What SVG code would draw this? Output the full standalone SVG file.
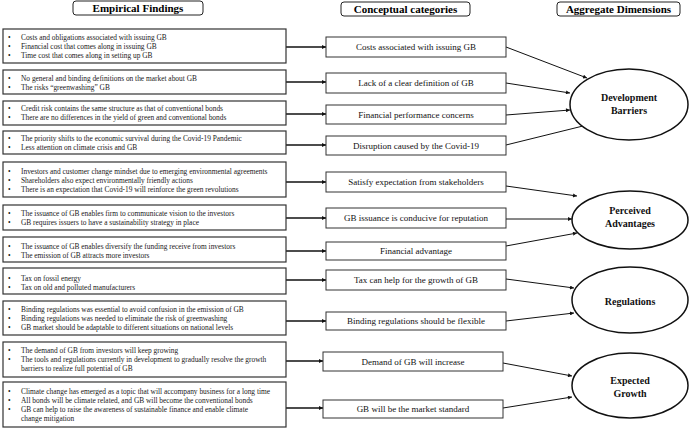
<svg xmlns="http://www.w3.org/2000/svg" width="690" height="428" viewBox="0 0 690 428">
<defs>
<style>
.hdr{fill:#fff;stroke:#222;stroke-width:1}
.ht{font-family:"Liberation Serif","Times New Roman",serif;font-weight:bold;font-size:11px;fill:#000;text-anchor:middle}
.eb{fill:#fff;stroke:#333;stroke-width:1.2}
.et{font-family:"Liberation Serif","Times New Roman",serif;font-size:7.4px;fill:#1a1a1a}
.cb{fill:#fff;stroke:#333;stroke-width:1}
.ct{font-family:"Liberation Serif","Times New Roman",serif;font-size:9px;fill:#111;text-anchor:middle}
.el{fill:#fff;stroke:#111;stroke-width:1.5}
.elt{font-family:"Liberation Serif","Times New Roman",serif;font-weight:bold;font-size:10px;fill:#111;text-anchor:middle}
.cn line{stroke:#111;stroke-width:1}
.cn .thick{stroke-width:1.3}
</style>
<marker id="ah" viewBox="0 0 10 10" refX="10" refY="5" markerWidth="6" markerHeight="4" markerUnits="userSpaceOnUse" orient="auto"><path d="M0,0 L10,5 L0,10 z" fill="#111"/></marker>
</defs>
<rect width="690" height="428" fill="#fff"/>

<g id="headers">
<rect class="hdr" x="73" y="1" width="130" height="14" rx="3"/>
<text class="ht" x="138" y="12">Empirical Findings</text>
<rect class="hdr" x="341" y="2" width="129" height="14" rx="3"/>
<text class="ht" x="405.5" y="13">Conceptual categories</text>
<rect class="hdr" x="557" y="2" width="123" height="14" rx="3"/>
<text class="ht" x="618.5" y="13">Aggregate Dimensions</text>
</g>

<g id="connectors" class="cn">
<line class="thick" x1="286" y1="47" x2="326" y2="47" marker-end="url(#ah)"/>
<line class="thick" x1="286" y1="82" x2="326" y2="82" marker-end="url(#ah)"/>
<line class="thick" x1="286" y1="114" x2="326" y2="114" marker-end="url(#ah)"/>
<line class="thick" x1="286" y1="145" x2="326" y2="145" marker-end="url(#ah)"/>
<line class="thick" x1="286" y1="182" x2="326" y2="182" marker-end="url(#ah)"/>
<line class="thick" x1="286" y1="218" x2="326" y2="218" marker-end="url(#ah)"/>
<line class="thick" x1="286" y1="251" x2="326" y2="251" marker-end="url(#ah)"/>
<line class="thick" x1="286" y1="280" x2="326" y2="280" marker-end="url(#ah)"/>
<line class="thick" x1="286" y1="321" x2="326" y2="321" marker-end="url(#ah)"/>
<line class="thick" x1="286" y1="361" x2="323" y2="361" marker-end="url(#ah)"/>
<line class="thick" x1="286" y1="408" x2="323" y2="408" marker-end="url(#ah)"/>
<line x1="506" y1="47" x2="587" y2="78" marker-end="url(#ah)"/>
<line x1="506" y1="83" x2="570" y2="93" marker-end="url(#ah)"/>
<line x1="506" y1="115" x2="570" y2="110" marker-end="url(#ah)"/>
<line x1="506" y1="145" x2="587" y2="125" marker-end="url(#ah)"/>
<line x1="506" y1="186" x2="577" y2="196" marker-end="url(#ah)"/>
<line x1="506" y1="219" x2="572" y2="219" marker-end="url(#ah)"/>
<line x1="506" y1="246" x2="577" y2="233" marker-end="url(#ah)"/>
<line x1="506" y1="279" x2="574" y2="288" marker-end="url(#ah)"/>
<line x1="506" y1="321" x2="574" y2="313" marker-end="url(#ah)"/>
<line x1="503" y1="363" x2="572" y2="376" marker-end="url(#ah)"/>
<line x1="503" y1="408" x2="572" y2="397" marker-end="url(#ah)"/>
</g>

<g id="ef1">
<rect class="eb" x="3" y="29" width="283" height="34"/>
<text class="et"><tspan x="8" y="39.5">•</tspan><tspan x="21" y="39.5">Costs and obligations associated with issuing GB</tspan><tspan x="8" y="48.5">•</tspan><tspan x="21" y="48.5">Financial cost that comes along in issuing GB</tspan><tspan x="8" y="57.5">•</tspan><tspan x="21" y="57.5">Time cost that comes along in setting up GB</tspan></text>
</g>
<g id="ef2">
<rect class="eb" x="3" y="70" width="283" height="24"/>
<text class="et"><tspan x="8" y="80.5">•</tspan><tspan x="21" y="80.5">No general and binding definitions on the market about GB</tspan><tspan x="8" y="89.5">•</tspan><tspan x="21" y="89.5">The risks “greenwashing” GB</tspan></text>
</g>
<g id="ef3">
<rect class="eb" x="3" y="101" width="283" height="24"/>
<text class="et"><tspan x="8" y="110.5">•</tspan><tspan x="21" y="110.5">Credit risk contains the same structure as that of conventional bonds</tspan><tspan x="8" y="119.5">•</tspan><tspan x="21" y="119.5">There are no differences in the yield of green and conventional bonds</tspan></text>
</g>
<g id="ef4">
<rect class="eb" x="3" y="131" width="283" height="23"/>
<text class="et"><tspan x="8" y="140.5">•</tspan><tspan x="21" y="140.5">The priority shifts to the economic survival during the Covid-19 Pandemic</tspan><tspan x="8" y="149.5">•</tspan><tspan x="21" y="149.5">Less attention on climate crisis and GB</tspan></text>
</g>
<g id="ef5">
<rect class="eb" x="3" y="162" width="283" height="35"/>
<text class="et"><tspan x="8" y="173.5">•</tspan><tspan x="21" y="173.5">Investors and customer change mindset due to emerging  environmental agreements</tspan><tspan x="8" y="182.5">•</tspan><tspan x="21" y="182.5">Shareholders also expect environmentally friendly actions</tspan><tspan x="8" y="191.5">•</tspan><tspan x="21" y="191.5">There is an expectation that Covid-19 will reinforce the green revolutions</tspan></text>
</g>
<g id="ef6">
<rect class="eb" x="3" y="205" width="283" height="25"/>
<text class="et"><tspan x="8" y="215.5">•</tspan><tspan x="21" y="215.5">The issuance of GB enables firm to communicate vision to the investors</tspan><tspan x="8" y="224.5">•</tspan><tspan x="21" y="224.5">GB requires issuers to have a sustainability strategy in place</tspan></text>
</g>
<g id="ef7">
<rect class="eb" x="3" y="237" width="283" height="25"/>
<text class="et"><tspan x="8" y="248.5">•</tspan><tspan x="21" y="248.5">The issuance of GB enables diversify the funding receive from investors</tspan><tspan x="8" y="257.5">•</tspan><tspan x="21" y="257.5">The emission of GB attracts more investors</tspan></text>
</g>
<g id="ef8">
<rect class="eb" x="3" y="268" width="283" height="26"/>
<text class="et"><tspan x="8" y="280.5">•</tspan><tspan x="21" y="280.5">Tax on fossil energy</tspan><tspan x="8" y="289.5">•</tspan><tspan x="21" y="289.5">Tax on old and polluted manufacturers</tspan></text>
</g>
<g id="ef9">
<rect class="eb" x="3" y="301" width="283" height="34"/>
<text class="et"><tspan x="8" y="311.5">•</tspan><tspan x="21" y="311.5">Binding regulations was essential to avoid confusion in the emission of GB</tspan><tspan x="8" y="320.5">•</tspan><tspan x="21" y="320.5">Binding regulations was needed to eliminate the risk of greenwashing</tspan><tspan x="8" y="329.5">•</tspan><tspan x="21" y="329.5">GB market should be adaptable to different situations on national levels</tspan></text>
</g>
<g id="ef10">
<rect class="eb" x="3" y="342" width="283" height="35"/>
<text class="et"><tspan x="8" y="353">•</tspan><tspan x="21" y="353">The demand of GB from investors will keep growing</tspan><tspan x="8" y="362">•</tspan><tspan x="21" y="362">The tools and regulations currently in development to gradually resolve the growth</tspan><tspan x="21" y="371">barriers to realize full potential of GB</tspan></text>
</g>
<g id="ef11">
<rect class="eb" x="3" y="382" width="283" height="45"/>
<text class="et"><tspan x="8" y="393.5">•</tspan><tspan x="21" y="393.5">Climate change has emerged as a topic that will accompany business for a long time</tspan><tspan x="8" y="402.5">•</tspan><tspan x="21" y="402.5">All bonds will be climate related, and GB will become the conventional bonds</tspan><tspan x="8" y="411.5">•</tspan><tspan x="21" y="411.5">GB can help to raise the awareness of sustainable finance and enable climate</tspan><tspan x="21" y="420.5">change mitigation</tspan></text>
</g>

<g id="cc1"><rect class="cb" x="326" y="37" width="180" height="20"/><text class="ct" x="416" y="50">Costs associated with issuing GB</text></g>
<g id="cc2"><rect class="cb" x="326" y="73" width="180" height="20"/><text class="ct" x="416" y="86">Lack of a clear definition of GB</text></g>
<g id="cc3"><rect class="cb" x="326" y="105" width="180" height="19"/><text class="ct" x="416" y="117.5">Financial performance concerns</text></g>
<g id="cc4"><rect class="cb" x="326" y="136" width="180" height="19"/><text class="ct" x="416" y="148.5">Disruption caused by the Covid-19</text></g>
<g id="cc5"><rect class="cb" x="326" y="172" width="180" height="20"/><text class="ct" x="416" y="185">Satisfy expectation from stakeholders</text></g>
<g id="cc6"><rect class="cb" x="326" y="208" width="180" height="20"/><text class="ct" x="416" y="221">GB issuance is conducive for reputation</text></g>
<g id="cc7"><rect class="cb" x="326" y="242" width="180" height="18"/><text class="ct" x="416" y="254">Financial advantage</text></g>
<g id="cc8"><rect class="cb" x="326" y="270" width="180" height="20"/><text class="ct" x="416" y="283">Tax can help for the growth of GB</text></g>
<g id="cc9"><rect class="cb" x="326" y="312" width="180" height="18"/><text class="ct" x="416" y="324">Binding regulations should be flexible</text></g>
<g id="cc10"><rect class="cb" x="323" y="352" width="180" height="19"/><text class="ct" x="413" y="364.5">Demand of GB will increase</text></g>
<g id="cc11"><rect class="cb" x="323" y="400" width="180" height="18"/><text class="ct" x="413" y="412">GB will be the market standard</text></g>

<g id="ad1"><ellipse class="el" cx="629" cy="104.5" rx="59" ry="35.5"/><text class="elt" x="629" y="100.5">Development</text><text class="elt" x="629" y="113.5">Barriers</text></g>
<g id="ad2"><ellipse class="el" cx="630" cy="220" rx="58" ry="29"/><text class="elt" x="630" y="213.5">Perceived</text><text class="elt" x="630" y="226.5">Advantages</text></g>
<g id="ad3"><ellipse class="el" cx="630" cy="300" rx="58" ry="33"/><text class="elt" x="630" y="305">Regulations</text></g>
<g id="ad4"><ellipse class="el" cx="630" cy="385.5" rx="58" ry="32.5"/><text class="elt" x="630" y="383.5">Expected</text><text class="elt" x="630" y="396.5">Growth</text></g>
</svg>
